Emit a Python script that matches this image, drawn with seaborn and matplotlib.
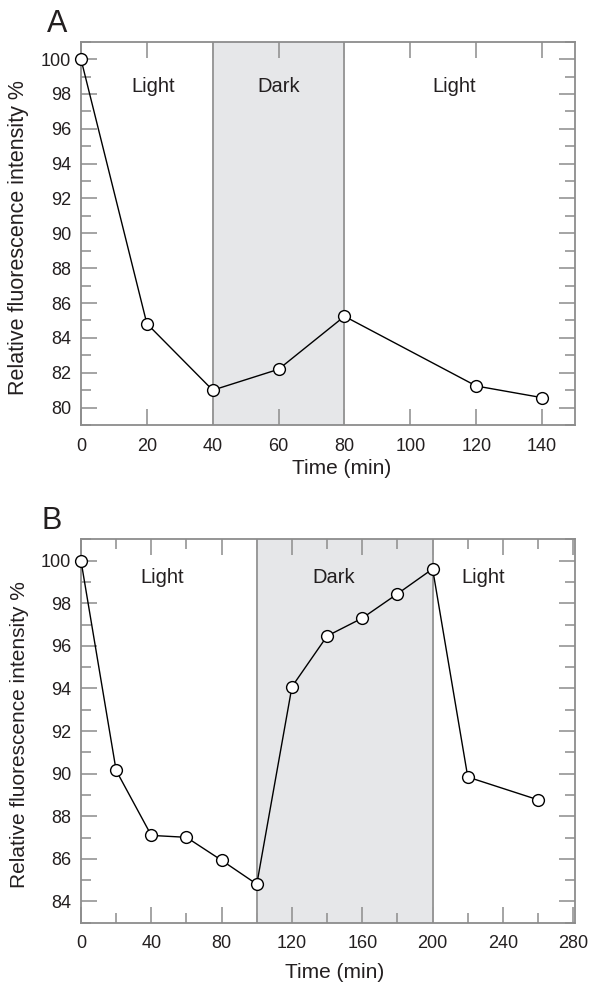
import pandas as pd
import matplotlib
matplotlib.use("Agg")
import matplotlib.pyplot as plt
from matplotlib.ticker import MultipleLocator
import seaborn as sns

# Panel A data
time_a = [0, 20, 40, 60, 80, 120, 140]
fluor_a = [100.0, 84.82, 81.0, 82.2, 85.24, 81.24, 80.57]
dark_a = (40, 80)

# Panel B data
time_b = [0, 20, 40, 60, 80, 100, 120, 140, 160, 180, 200, 220, 260]
fluor_b = [100.0, 90.15, 87.1, 87.01, 85.93, 84.81, 94.08, 96.46, 97.3, 98.44, 99.61, 89.84, 88.77]
dark_b = (100, 200)

period_labels = ["Light", "Dark", "Light"]

sns.set_style("ticks")
plt.rcParams['font.family'] = ['Liberation Sans', 'DejaVu Sans']
plt.rcParams['text.color'] = '#231f20'
plt.rcParams['axes.labelcolor'] = '#231f20'

fig = plt.figure(figsize=(5.91, 9.85), dpi=100)
ax_a = fig.add_axes([0.137, 0.5685, 0.836, 0.3892])
ax_b = fig.add_axes([0.137, 0.0632, 0.836, 0.3893])

spine_col = '#8c8c8c'
text_col = '#231f20'


def style_axis(ax, xlim, ylim, xmajor, xminor, label_xs, label_y,
               xlab_pos, ylab_size):
    ax.set_xlim(*xlim)
    ax.set_ylim(*ylim)
    ax.xaxis.set_major_locator(MultipleLocator(xmajor))
    if xminor:
        ax.xaxis.set_minor_locator(MultipleLocator(xminor))
    ax.yaxis.set_major_locator(MultipleLocator(2))
    ax.yaxis.set_minor_locator(MultipleLocator(1))
    for s in ax.spines.values():
        s.set_visible(True)
        s.set_color(spine_col)
        s.set_linewidth(1.3)
    ax.tick_params(which='both', direction='in', top=True, right=True,
                   color=spine_col, width=1.1, labelcolor=text_col)
    ax.tick_params(which='major', length=11.5, labelsize=13, pad=7)
    ax.tick_params(which='minor', length=7.5)
    ax.tick_params(axis='x', which='major', pad=9)
    ax.set_xlabel("Time (min)", fontsize=15)
    ax.xaxis.set_label_coords(*xlab_pos)
    ax.set_ylabel("Relative fluorescence intensity %", fontsize=ylab_size)
    ax.yaxis.set_label_coords(-0.106, 0.49)
    for x, lab in zip(label_xs, period_labels):
        ax.text(x, label_y, lab, ha='center', va='center', fontsize=14.5, color=text_col)


def draw_panel(ax, t, f, dark):
    ax.axvspan(dark[0], dark[1], color='#e6e7e9', zorder=0, lw=0)
    for xv in dark:
        ax.axvline(xv, color='#999999', lw=1.4, zorder=1)
    df = pd.DataFrame({'Time': t, 'Fluorescence': f})
    sns.lineplot(data=df, x='Time', y='Fluorescence', ax=ax, color='black',
                 lw=1.0, marker='o', markersize=8.5, markerfacecolor='white',
                 markeredgecolor='black', markeredgewidth=1.0, zorder=5,
                 clip_on=False)


draw_panel(ax_a, time_a, fluor_a, dark_a)
style_axis(ax_a, (0, 150), (79, 101), 20, None, [21.8, 60, 113.2], 98.4,
           (0.528, -0.088), 15.5)

draw_panel(ax_b, time_b, fluor_b, dark_b)
style_axis(ax_b, (0, 281), (83, 101), 40, 20, [46.3, 143.6, 228.6], 99.2,
           (0.513, -0.105), 15)

fig.text(57 / 591, 1 - 24 / 985, "A", fontsize=22, ha='center', va='center', color=text_col)
fig.text(52 / 591, 1 - 521 / 985, "B", fontsize=22, ha='center', va='center', color=text_col)

fig.savefig("out.png", dpi=100)
plt.close(fig)
